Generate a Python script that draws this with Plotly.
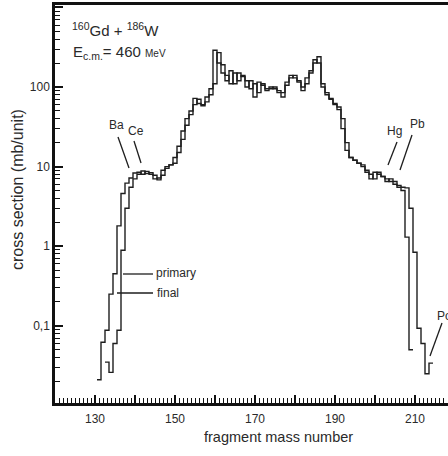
import plotly.graph_objects as go

# ---- data ----
final_mass = list(range(131, 210))
final_vals = [0.021, 0.062, 0.088, 0.25, 0.45, 1.8, 4.6, 6.2, 7.2, 8.3,
              8.5, 8.0, 8.7, 8.0, 7.0, 7.2, 9.0, 10.0, 10.5, 13,
              18, 28, 40, 50, 72, 62, 60, 75, 95, 290,
              200, 150, 120, 160, 110, 150, 135, 100, 120, 75,
              115, 105, 90, 100, 95, 90, 75, 115, 140, 130,
              120, 90, 130, 150, 200, 240, 100, 80, 70, 60,
              56, 40, 20, 13, 12, 11, 10.5, 9, 7, 8.5,
              8, 7.5, 6.5, 7, 6, 5.5, 5.0, 1.3, 0.05]

primary_mass = list(range(133, 215))
primary_vals = [0.035, 0.026, 0.06, 0.088, 0.89, 3.0, 5.5, 7.0, 8.0, 8.8,
                8.2, 8.4, 7.8, 6.8, 7.8, 9.5, 10.5, 11, 15, 22,
                33, 45, 60, 70, 58, 65, 80, 110, 270, 190,
                140, 110, 150, 120, 140, 120, 95, 110, 85, 110,
                95, 95, 100, 85, 85, 105, 130, 140, 115, 100,
                110, 160, 220, 200, 110, 85, 72, 62, 52, 30,
                16, 13, 12, 11, 10, 8.5, 8, 7, 8.5, 7.5,
                7, 6.5, 6.5, 5.8, 5.5, 5.4, 3.0, 0.84, 0.093, 0.06,
                0.025, 0.034]

x_tickvals = [120, 130, 140, 150, 160, 170, 180, 190, 200, 210]
x_ticktext = ["", "130", "", "150", "", "170", "", "190", "", "210"]
y_tickvals = [0.01, 0.1, 1, 10, 100, 1000]
y_ticktext = ["", "0,1", "1", "10", "100", ""]

X_RANGE = [120, 218.25]
Y_RANGE = [-1.97, 3.03]
x_minor = list(range(120, 219))
y_minor = [m * d for d in (0.01, 0.1, 1, 10, 100) for m in range(2, 10)]

# main y axis carries every tick (labels only on the decades)
y_all = sorted(y_tickvals + y_minor)
y_all_text = [y_ticktext[y_tickvals.index(v)] if v in y_tickvals else ""
              for v in y_all]


def steps(mass, vals):
    xs = [m - 0.5 for m in mass] + [mass[-1] + 0.5]
    ys = list(vals) + [vals[-1]]
    return xs, ys


FONT = "Liberation Sans, Arial, sans-serif"
TXT = "#2a2a2a"
LINE = "#1e1e1e"

fig = go.Figure()
for mass, vals, name in [(final_mass, final_vals, "final"),
                         (primary_mass, primary_vals, "primary")]:
    xs, ys = steps(mass, vals)
    fig.add_trace(go.Scatter(x=xs, y=ys, mode="lines", name=name,
                             line=dict(shape="hv", color=LINE, width=1.4),
                             showlegend=False, hoverinfo="skip"))
# invisible trace on the overlay axes so the extra tick axes are drawn
fig.add_trace(go.Scatter(x=[150], y=[1], xaxis="x2", yaxis="y2",
                         mode="markers", marker=dict(opacity=0),
                         showlegend=False, hoverinfo="skip"))

# plot area in pixels: left 55, right 448, top 5, bottom 403
L, R, T, B = 55, 448, 5, 403
W, H = R - L, B - T


def px(x):
    return (x - L) / W


def py(y):
    return (B - y) / H


annotations = [
    dict(x=px(70), y=py(30), xanchor="left", yanchor="middle",
         text="<sup>160</sup>Gd + <sup>186</sup>W", font=dict(size=15)),
    dict(x=px(71), y=py(53), xanchor="left", yanchor="middle",
         text="E<sub>c.m.</sub>= 460 <span style='font-size:10px'>MeV</span>",
         font=dict(size=15)),
    dict(x=px(116), y=py(125), text="Ba", font=dict(size=12)),
    dict(x=px(136), y=py(131), text="Ce", font=dict(size=12)),
    dict(x=px(394), y=py(131), text="Hg", font=dict(size=12)),
    dict(x=px(417), y=py(124), text="Pb", font=dict(size=12)),
    dict(x=px(435), y=py(316), xanchor="left", text="Po", font=dict(size=12)),
    dict(x=px(154), y=py(273), xanchor="left", text="primary", font=dict(size=12)),
    dict(x=px(155), y=py(293), xanchor="left", text="final", font=dict(size=12)),
    dict(x=px(278), y=py(437), text="fragment mass number", font=dict(size=14.5)),
    dict(x=px(18), y=py(190), text="cross section (mb/unit)", textangle=-90,
         font=dict(size=16)),
]
for a in annotations:
    a.setdefault("xanchor", "center")
    a.setdefault("yanchor", "middle")
    a.update(xref="paper", yref="paper", showarrow=False)
    a["font"].update(family=FONT, color=TXT)

segs = [
    ((118, 137), (129, 168)),   # Ba
    ((134, 141), (141, 163)),   # Ce
    ((397, 142), (388, 165)),   # Hg
    ((412, 135), (400, 170)),   # Pb
    ((442, 323), (430, 356)),   # Po
    ((123, 274), (153, 274)),   # primary
    ((117, 293), (153, 293)),   # final
]
shapes = []
for (x0, y0), (x1, y1) in segs:
    shapes.append(dict(type="line", xref="paper", yref="paper",
                       x0=px(x0), y0=py(y0), x1=px(x1), y1=py(y1),
                       line=dict(color=LINE, width=1.3)))

fig.update_layout(
    width=448, height=456,
    margin=dict(l=L, r=0, t=T, b=456 - B),
    paper_bgcolor="white", plot_bgcolor="white",
    font=dict(family=FONT, color=TXT, size=12),
    annotations=annotations, shapes=shapes,
    xaxis=dict(range=X_RANGE, showgrid=False, zeroline=False,
               showline=True, linecolor="#111", linewidth=2.5, mirror=True,
               tickmode="array", tickvals=x_tickvals, ticktext=x_ticktext,
               ticks="inside", ticklen=8, tickwidth=1.5, tickcolor="#111",
               ticklabelstandoff=3,
               tickfont=dict(size=12, color=TXT, family=FONT)),
    yaxis=dict(type="log", range=Y_RANGE, showgrid=False, zeroline=False,
               showline=True, linecolor="#111", linewidth=2.5,
               tickmode="array", tickvals=y_all, ticktext=y_all_text,
               ticks="inside", ticklen=5, tickwidth=1.2, tickcolor="#111",
               tickfont=dict(size=12, color=TXT, family=FONT)),
    xaxis2=dict(overlaying="x", anchor="y", side="bottom", range=X_RANGE,
                showgrid=False, zeroline=False, showline=False, visible=True,
                tickmode="array", tickvals=x_minor, showticklabels=False,
                ticks="inside", ticklen=5, tickwidth=1, tickcolor="#111"),
    yaxis2=dict(overlaying="y", anchor="x", side="left", type="log",
                range=Y_RANGE, showgrid=False, zeroline=False, showline=False,
                visible=True,
                tickmode="array", tickvals=y_tickvals, showticklabels=False,
                ticks="inside", ticklen=8, tickwidth=1.5, tickcolor="#111"),
)

fig.write_html("out.html")
